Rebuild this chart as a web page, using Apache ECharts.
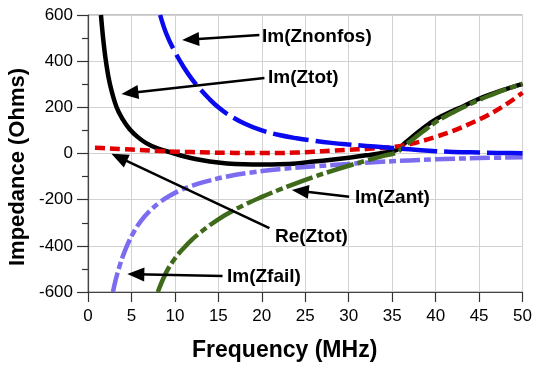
<!DOCTYPE html>
<html><head><meta charset="utf-8">
<script src="https://cdn.jsdelivr.net/npm/echarts@6/dist/echarts.min.js"></script>
<style>html,body{margin:0;padding:0;background:#fff}#c{width:535px;height:365px}</style>
</head><body><div id="c"></div>
<script>
// ---- data (frequency in MHz, impedance in Ohms) ----
const xTicks = [0,5,10,15,20,25,30,35,40,45,50];
const yTicks = [-600,-400,-200,0,200,400,600];

const imZtotF = [1.49,1.76,2.06,2.52,3.29,4,4.8,5.7,6.7,8,9.5,11,12.5,14,16,18,20,22,24,26,28,30,32,34,35.5,36.6,38.4,40,42,43.2,45,47.2,50];
const imZtotV = [600,492,400,301,200,148,105,72,45,22,5,-12,-25,-35,-43,-47,-48,-47,-43,-35,-27,-18,-8,3,15,50,105,148,185,205,237,268,302];

const imZnonfosF = [8.3,9,10,11,12,13,14,15,16,18,20,22,24,26,28,30,32,34,36,38,40,42,44,46,48,50];
const imZnonfosV = [600,520,440,375,320,275,235,200,172,130,100,80,66,55,46,39,33,27,21,15,10,7,5,3,2,1];

const reZtotF = [0.8,2,4,6,8,10,12,14,16,18,20,22,24,26,28,30,32,34,35,36,37,38,40,42,44,46,48,50];
const reZtotV = [25,23,19,15,11,8,6,4,3,2,2,2,4,8,12,16,20,25,28,33,40,49,72,98,130,166,210,263];

const imZfailF = [2.87,3.2,3.63,4.1,4.6,5.3,6.1,7,8.2,9.4,10.7,12,13.4,15.8,18.6,22,26.3,30,33.8,37,40,45,50];
const imZfailV = [-600,-545,-488,-436,-390,-338,-292,-253,-213,-183,-158,-139,-123,-101,-83,-68,-55,-45,-36,-30,-25,-20,-16];

const imZantF = [8.03,9,10,11,12,13,14,15,16,18,20,22,24,26,28,30,32,34,35.5,36.5,37.5,38.5,40,41,42,43,44,45,46,47,48,49,50];
const imZantV = [-600,-515,-455,-410,-372,-340,-311,-285,-262,-222,-188,-157,-128,-101,-76,-53,-31,-10,5,35,65,94,136,158,178,197,215,232,248,263,277,290,302];

// annotation labels and arrows (data coordinates: from label end to arrowhead centre)
const annLabels = ['Im(Znonfos)','Im(Ztot)','Re(Ztot)','Im(Zant)','Im(Zfail)'];
const annFrom = [[19.72,513],[20.30,327],[20.87,-323],[30.05,-187],[15.48,-531]];
const annTo   = [[11.81,494],[4.82,262],[3.58,-17],[24.42,-162],[5.50,-523]];

const zip = (f, v) => f.map((x, i) => [x, v[i]]);
const FONT = '"Liberation Sans", Arial, sans-serif';

const chart = echarts.init(document.getElementById('c'), null, {renderer: 'canvas'});

function lineSeries(name, f, v, color, dash, z) {
  return {
    name, type: 'line', data: zip(f, v), showSymbol: false, symbol: 'none',
    smooth: 0.4, clip: true, z,
    lineStyle: {color, width: 4.5, type: dash, cap: 'butt', join: 'round'}
  };
}

const arrowData = annFrom.map((a, i) => [
  {coord: a}, {coord: annTo[i]}
]);

const option = {
  animation: false,
  backgroundColor: '#fff',
  grid: {left: 88, right: 11, top: 15, bottom: 73, show: true, borderColor: '#8a8a8a', borderWidth: 1},
  xAxis: {
    type: 'value', min: 0, max: 50, interval: 5,
    axisLine: {show: true, onZero: false, lineStyle: {color: '#444', width: 1.2}},
    axisTick: {show: true, length: 10, lineStyle: {color: '#333', width: 1.2}},
    axisLabel: {color: '#000', fontSize: 17, fontFamily: FONT, margin: 16,
      formatter: v => xTicks.includes(v) ? String(v) : ''},
    splitLine: {show: true, lineStyle: {color: '#d2d2d2', width: 1}}
  },
  yAxis: {
    type: 'value', min: -600, max: 600, interval: 200,
    axisLine: {show: true, onZero: false, lineStyle: {color: '#444', width: 1.2}},
    axisTick: {show: true, length: 11, lineStyle: {color: '#333', width: 1.2}},
    minorTick: {show: true, splitNumber: 2, length: 6, lineStyle: {color: '#333', width: 1.2}},
    axisLabel: {color: '#000', fontSize: 17, fontFamily: FONT, margin: 15,
      formatter: v => yTicks.includes(v) ? String(v) : ''},
    splitLine: {show: true, lineStyle: {color: '#d2d2d2', width: 1}}
  },
  graphic: [
    {type: 'text', left: 192, top: 339, style: {text: 'Frequency (MHz)', font: 'bold 23px ' + FONT, fill: '#000'}},
    {type: 'text', x: 18, y: 167, rotation: Math.PI / 2, style: {text: 'Impedance (Ohms)', font: 'bold 22px ' + FONT, fill: '#000', align: 'center', verticalAlign: 'middle'}},
    {type: 'text', x: 262, y: 37, style: {text: annLabels[0], font: 'bold 19px ' + FONT, fill: '#000', verticalAlign: 'middle'}, z: 100},
    {type: 'text', x: 268, y: 78, style: {text: annLabels[1], font: 'bold 19px ' + FONT, fill: '#000', verticalAlign: 'middle'}, z: 100},
    {type: 'text', x: 275, y: 237, style: {text: annLabels[2], font: 'bold 19px ' + FONT, fill: '#000', verticalAlign: 'middle'}, z: 100},
    {type: 'text', x: 355, y: 198, style: {text: annLabels[3], font: 'bold 19px ' + FONT, fill: '#000', verticalAlign: 'middle'}, z: 100},
    {type: 'text', x: 227, y: 277, style: {text: annLabels[4], font: 'bold 19px ' + FONT, fill: '#000', verticalAlign: 'middle'}, z: 100}
  ],
  series: [
    lineSeries('Im(Ztot)', imZtotF, imZtotV, '#000000', 'solid', 2),
    lineSeries('Re(Ztot)', reZtotF, reZtotV, '#e00000', [10, 5], 3),
    lineSeries('Im(Zfail)', imZfailF, imZfailV, '#7b6cf0', [20, 4, 7, 4], 4),
    lineSeries('Im(Zant)', imZantF, imZantV, '#3f6a1a', [28, 4, 7, 4], 5),
    Object.assign(lineSeries('Im(Znonfos)', imZnonfosF, imZnonfosV, '#0a0af0', [36, 7], 6), {
      markLine: {
        silent: true, animation: false, z: 20,
        symbol: ['none', 'triangle'], symbolSize: [14, 17],
        label: {show: false},
        lineStyle: {color: '#000', width: 2.5, type: 'solid'},
        emphasis: {disabled: true},
        data: arrowData
      }
    })
  ]
};
chart.setOption(option);
</script></body></html>
